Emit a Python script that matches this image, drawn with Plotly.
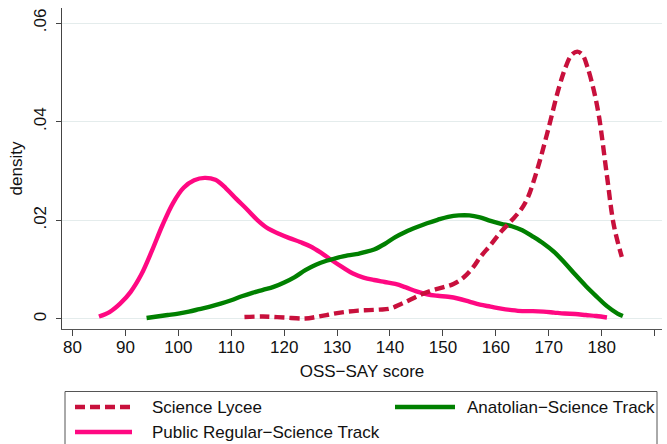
import plotly.graph_objects as go

# Kernel density estimates of OSS-SAY scores by school type
lycee_x = [112.5, 116, 120, 124, 126, 128, 130, 132, 134, 136, 138, 140, 142, 144, 146, 148,
           150, 152, 154, 155.8, 157.1, 159, 161, 163, 164.7, 166, 167.8, 169.7, 171.9,
           173.2, 174.3, 175.4, 176.4, 177.3, 178.5, 179.5, 181, 182.3, 183.8]
lycee_d = [0.0004, 0.0005, 0.0003, 0.0001, 0.0004, 0.0008, 0.0012, 0.0015, 0.0017, 0.0018,
           0.0019, 0.0021, 0.0030, 0.0040, 0.0050, 0.0058, 0.0064, 0.0071, 0.0085, 0.0106,
           0.0126, 0.0150, 0.0177, 0.0200, 0.0221, 0.0245, 0.0302, 0.0376, 0.0468, 0.0511,
           0.0535, 0.0542, 0.0535, 0.0511, 0.0464, 0.0410, 0.0290, 0.0190, 0.0126]

anatolian_x = [94, 96, 98, 100, 102, 104, 106, 108, 110, 112, 114, 116, 118, 120, 122, 124,
               126, 128, 130, 132, 134, 135, 137, 139, 141, 143, 145, 147, 149, 151, 153,
               155, 157, 159, 161, 163, 165, 167, 169, 171, 173, 175, 177, 179, 181, 183, 184]
anatolian_d = [0.0002, 0.0005, 0.0008, 0.0011, 0.0015, 0.0020, 0.0025, 0.0031, 0.0038,
               0.0046, 0.0053, 0.0059, 0.0065, 0.0074, 0.0085, 0.0099, 0.0110, 0.0118,
               0.0124, 0.0129, 0.0132, 0.0135, 0.0141, 0.0152, 0.0166, 0.0177, 0.0186,
               0.0194, 0.0201, 0.0207, 0.0210, 0.0210, 0.0206, 0.0199, 0.0193, 0.0188,
               0.0180, 0.0167, 0.0153, 0.0136, 0.0114, 0.0090, 0.0067, 0.0046, 0.0026,
               0.0011, 0.0006]

public_x = [85, 87, 89, 91, 93, 95, 97, 99, 101, 103, 105, 107, 109, 111, 113, 115, 117,
            119, 121, 123, 125, 127, 129, 131, 133, 135, 137, 139, 141, 143, 145, 147, 149,
            151, 153, 155, 157, 159, 161, 163, 165, 167, 169, 171, 173, 175, 177, 179, 181]
public_d = [0.0005, 0.0014, 0.0031, 0.0055, 0.0090, 0.0138, 0.0190, 0.0235, 0.0266, 0.0281,
            0.0286, 0.0282, 0.0265, 0.0243, 0.0222, 0.0200, 0.0183, 0.0173, 0.0164, 0.0156,
            0.0147, 0.0134, 0.0119, 0.0105, 0.0092, 0.0084, 0.0079, 0.0075, 0.0071, 0.0064,
            0.0056, 0.0050, 0.0047, 0.0045, 0.0041, 0.0035, 0.0029, 0.0025, 0.0021, 0.0018,
            0.0016, 0.0016, 0.0015, 0.0013, 0.0011, 0.0010, 0.0008, 0.0006, 0.0003]

x_ticks = [80, 90, 100, 110, 120, 130, 140, 150, 160, 170, 180, 190]
y_ticks = [0, 0.02, 0.04, 0.06]
y_tick_text = ["0", ".02", ".04", ".06"]

series_names = ["Science Lycee", "Anatolian\u2212Science Track", "Public Regular\u2212Science Track"]

C_LYCEE = "#c8103c"
C_ANAT = "#008000"
C_PUB = "#ff0882"
FONT = "Liberation Sans, Arial, sans-serif"
LW = 4.4
LYCEE_DASH = "10px,5px"

W, H = 667, 444
ML, MR, MT, MB = 62, 5, 8, 115

fig = go.Figure()
fig.add_trace(go.Scatter(x=public_x, y=public_d, mode="lines", name=series_names[2],
                         line=dict(color=C_PUB, width=LW, shape="spline", smoothing=1)))
fig.add_trace(go.Scatter(x=anatolian_x, y=anatolian_d, mode="lines", name=series_names[1],
                         line=dict(color=C_ANAT, width=LW, shape="spline", smoothing=1)))
fig.add_trace(go.Scatter(x=lycee_x, y=lycee_d, mode="lines", name=series_names[0],
                         line=dict(color=C_LYCEE, width=LW, dash=LYCEE_DASH,
                                   shape="spline", smoothing=1)))

pw = W - ML - MR
ph = H - MT - MB


def px(xp):
    return (xp - ML) / pw


def py(yp):
    return (H - MB - yp) / ph


# Legend box drawn below the plot area
shapes = [dict(type="rect", xref="paper", yref="paper",
               x0=px(65), x1=px(657), y0=py(391.5), y1=py(448),
               line=dict(color="#555", width=1), fillcolor="white")]
legend_rows = [
    (series_names[0], C_LYCEE, LYCEE_DASH, 75, 132, 407, 150),
    (series_names[2], C_PUB, "solid", 75, 132, 432, 150),
    (series_names[1], C_ANAT, "solid", 395, 455, 407, 465),
]
annotations = []
for name, col, dash, xa, xb, yy, xt in legend_rows:
    shapes.append(dict(type="line", xref="paper", yref="paper",
                       x0=px(xa), x1=px(xb), y0=py(yy), y1=py(yy),
                       line=dict(color=col, width=LW, dash=dash)))
    annotations.append(dict(text=name, xref="paper", yref="paper", x=px(xt), y=py(yy),
                            xanchor="left", yanchor="middle", showarrow=False,
                            font=dict(family=FONT, size=17, color="#111")))

fig.update_layout(
    width=W, height=H, autosize=False,
    margin=dict(l=ML, r=MR, t=MT, b=MB, pad=0),
    paper_bgcolor="white", plot_bgcolor="white",
    showlegend=False,
    font=dict(family=FONT, size=17, color="#111"),
    shapes=shapes, annotations=annotations,
    xaxis=dict(range=[78.02, 191.4], tickvals=x_ticks, ticks="outside", ticklen=6,
               tickcolor="#444", showline=True, linecolor="#555", linewidth=1,
               showgrid=False, zeroline=False, tickfont=dict(size=17),
               ticklabelstandoff=-3,
               title=dict(text="OSS\u2212SAY score", font=dict(size=17), standoff=8)),
    yaxis=dict(range=[-0.00203, 0.06304], tickvals=y_ticks, ticktext=y_tick_text,
               tickangle=-90, ticks="outside", ticklen=5, tickcolor="#444",
               showline=True, linecolor="#444", linewidth=1,
               showgrid=True, gridcolor="#e4ecec", gridwidth=1, zeroline=False,
               tickfont=dict(size=17), ticklabelstandoff=3,
               title=dict(text="density", font=dict(size=17), standoff=4)),
)

fig.write_html("out.html")
